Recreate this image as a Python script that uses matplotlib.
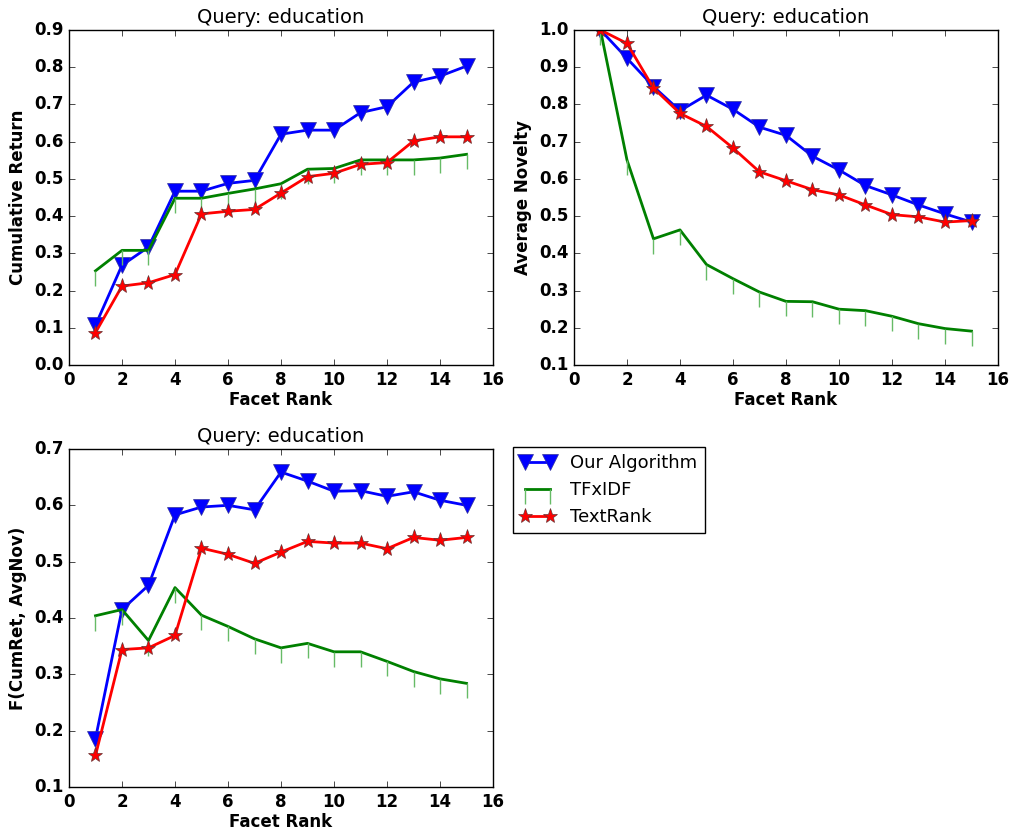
import matplotlib
matplotlib.use("Agg")
import matplotlib.pyplot as plt

plt.style.use('classic')
plt.rcParams['figure.facecolor'] = 'white'
plt.rcParams['savefig.facecolor'] = 'white'
plt.rcParams['font.family'] = ['DejaVu Sans']

ranks = list(range(1, 16))
series_names = ["Our Algorithm", "TFxIDF", "TextRank"]

cumret_ours = [0.107, 0.268, 0.317, 0.467, 0.467, 0.488, 0.496, 0.620, 0.631, 0.631, 0.678, 0.694, 0.760, 0.776, 0.803]
cumret_tfidf = [0.253, 0.308, 0.308, 0.448, 0.448, 0.461, 0.473, 0.487, 0.526, 0.528, 0.551, 0.551, 0.551, 0.556, 0.566]
cumret_textrank = [0.087, 0.212, 0.221, 0.243, 0.406, 0.413, 0.418, 0.462, 0.506, 0.515, 0.539, 0.544, 0.602, 0.613, 0.613]

nov_ours = [1.0, 0.924, 0.848, 0.783, 0.825, 0.787, 0.739, 0.717, 0.661, 0.624, 0.582, 0.557, 0.530, 0.506, 0.484]
nov_tfidf = [1.0, 0.651, 0.439, 0.463, 0.370, 0.332, 0.296, 0.271, 0.270, 0.250, 0.246, 0.231, 0.211, 0.198, 0.191]
nov_textrank = [1.0, 0.964, 0.844, 0.776, 0.741, 0.683, 0.619, 0.595, 0.571, 0.557, 0.530, 0.504, 0.498, 0.484, 0.488]

f_ours = [0.186, 0.415, 0.458, 0.583, 0.597, 0.600, 0.592, 0.659, 0.643, 0.625, 0.626, 0.616, 0.624, 0.609, 0.600]
f_tfidf = [0.404, 0.415, 0.360, 0.454, 0.405, 0.385, 0.363, 0.347, 0.355, 0.340, 0.340, 0.323, 0.305, 0.292, 0.284]
f_textrank = [0.156, 0.344, 0.347, 0.369, 0.524, 0.513, 0.497, 0.517, 0.536, 0.533, 0.533, 0.523, 0.543, 0.538, 0.543]

title = "Query: education"
xlabel = "Facet Rank"

fig = plt.figure(figsize=(10.13, 8.33), dpi=100)
ax1 = fig.add_axes([0.0681, 0.5618, 0.4186, 0.4022])
ax2 = fig.add_axes([0.5666, 0.5618, 0.4186, 0.4022])
ax3 = fig.add_axes([0.0681, 0.0552, 0.4186, 0.4058])


def draw(ax, ours, tfidf, textrank, ylabel, ylim, yticks):
    l1, = ax.plot(ranks, ours, color='b', lw=2, marker='v', markersize=11,
                  markeredgewidth=0.5, markeredgecolor='#333399', label=series_names[0])
    l2, = ax.plot(ranks, tfidf, color='g', lw=2, marker=3, markersize=11,
                  markeredgewidth=1, markeredgecolor='#66bb66', label=series_names[1])
    l3, = ax.plot(ranks, textrank, color='r', lw=2, marker='*', markersize=11,
                  markeredgewidth=0.5, markeredgecolor='#663333', label=series_names[2])
    ax.set_xlim(0, 16)
    ax.set_ylim(*ylim)
    ax.set_xticks(range(0, 17, 2))
    ax.set_yticks(yticks)
    ax.set_title(title, fontsize=14)
    ax.set_xlabel(xlabel, fontsize=12, fontweight='bold', labelpad=2)
    ax.set_ylabel(ylabel, fontsize=12, fontweight='bold')
    for lab in ax.get_xticklabels() + ax.get_yticklabels():
        lab.set_fontweight('bold')
        lab.set_fontsize(12)
    return l1, l2, l3


def ticks(lo, hi):
    n = int(round((hi - lo) * 10))
    return [round(lo + i * 0.1, 1) for i in range(n + 1)]


draw(ax1, cumret_ours, cumret_tfidf, cumret_textrank, "Cumulative Return", (0, 0.9), ticks(0, 0.9))
draw(ax2, nov_ours, nov_tfidf, nov_textrank, "Average Novelty", (0.1, 1.0), ticks(0.1, 1.0))
handles = draw(ax3, f_ours, f_tfidf, f_textrank, "F(CumRet, AvgNov)", (0.1, 0.7), ticks(0.1, 0.7))

fig.legend(handles, series_names, loc='upper left', bbox_to_anchor=(0.506, 0.4635),
           bbox_transform=fig.transFigure, borderaxespad=0, numpoints=2, fontsize=13)

fig.savefig("out.png", dpi=100)
